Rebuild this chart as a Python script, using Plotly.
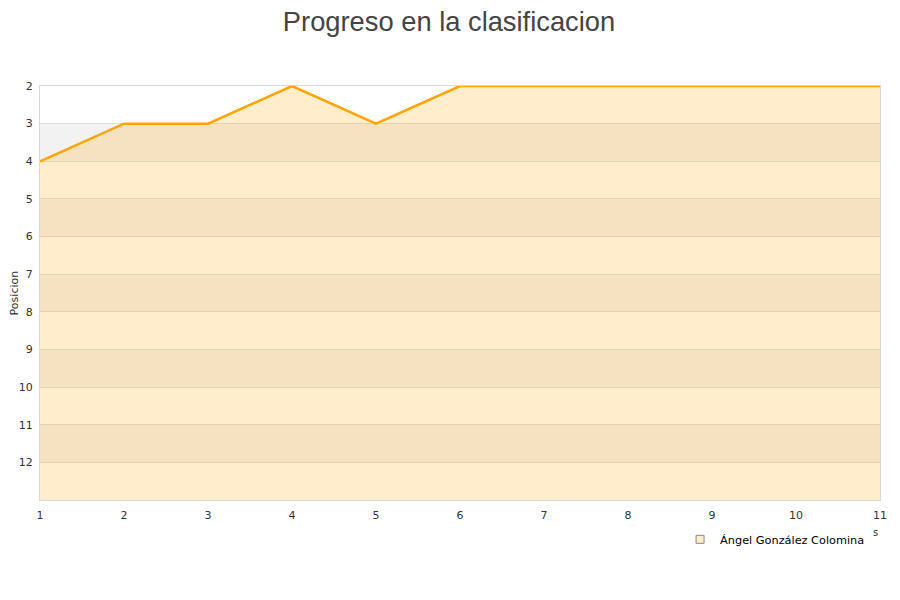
import plotly.graph_objects as go

jornadas = [1, 2, 3, 4, 5, 6, 7, 8, 9, 10, 11]
posicion = [4, 3, 3, 2, 3, 2, 2, 2, 2, 2, 2]
fondo = [13, 13, 13, 13, 13, 13, 13, 13, 13, 13, 13]  # bottom of the area
jugador = "Ángel González Colomina"
y_ticks = [2, 3, 4, 5, 6, 7, 8, 9, 10, 11, 12]

fig = go.Figure()

fig.add_trace(go.Scatter(x=jornadas, y=fondo, mode="lines", line=dict(width=0),
                         showlegend=False, hoverinfo="skip"))
fig.add_trace(
    go.Scatter(x=jornadas,
               y=posicion,
               name=jugador,
               mode="lines",
               line=dict(color="#ffa500", width=2.5),
               fill="tonexty",
               fillcolor="rgba(255,165,0,0.2)",
               showlegend=False)
)
# legend entry only
fig.add_trace(go.Scatter(x=[None], y=[None], mode="markers", name=jugador,
                         marker=dict(symbol="square", size=8, color="#ffedcc",
                                     line=dict(color="#888", width=1))))

# alternate grey bands behind the area
for i in range(3, 13, 2):
    fig.add_shape(type="rect", xref="paper", yref="y", x0=0, x1=1, y0=i, y1=i + 1,
                  fillcolor="#f2f2f2", line_width=0, layer="below")

fig.update_layout(
    width=900, height=600,
    title=dict(text="Progreso en la clasificacion", x=0.49, xanchor="center",
               y=0.994, yanchor="top", pad=dict(t=0),
               font=dict(family="Liberation Sans", size=27.3, color="#444")),
    font=dict(family="DejaVu Sans", size=11, color="#333"),
    plot_bgcolor="white",
    paper_bgcolor="white",
    margin=dict(l=32, r=28, t=78, b=108),
    showlegend=True,
    legend=dict(x=0.762, xanchor="left", y=-0.06, yanchor="top",
                font=dict(size=11.3, color="#000"), bgcolor="rgba(0,0,0,0)",
                itemwidth=30),
    xaxis=dict(range=[1, 11], tickvals=jornadas, showgrid=False, zeroline=False,
               showline=True, linecolor="#d9d9d9", mirror=True, ticks="",
               ticklabelstandoff=5, automargin=False, fixedrange=True),
    yaxis=dict(range=[13, 2], tickvals=y_ticks, showgrid=True, gridcolor="#dedede",
               gridwidth=1, zeroline=False, showline=True, linecolor="#d9d9d9",
               mirror=True, ticks="", ticklabelstandoff=4, automargin=False),
)

fig.add_annotation(text="Posicion", xref="paper", yref="paper", x=-0.0305, y=0.5,
                   xanchor="center", yanchor="middle", textangle=-90,
                   showarrow=False, font=dict(size=11, color="#333"))
fig.add_annotation(text="s", xref="paper", yref="paper", x=0.9995, y=-0.097,
                   showarrow=False, font=dict(size=10, color="#333"))

fig.write_html("out.html")
